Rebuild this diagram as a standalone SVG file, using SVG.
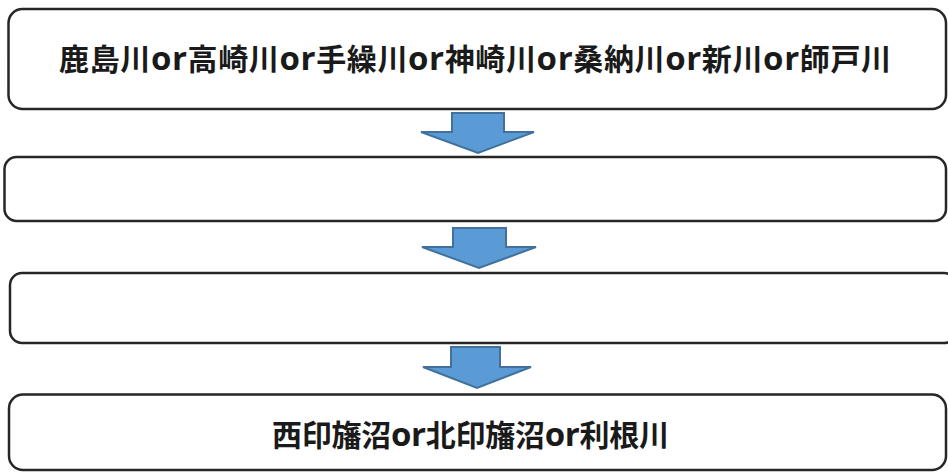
<svg xmlns="http://www.w3.org/2000/svg" width="948" height="473" viewBox="0 0 948 473">
<style>
.box{fill:#fff;stroke:#262626;stroke-width:2.5}
.arr{fill:#5B9BD5;stroke:#41719C;stroke-width:2;stroke-linejoin:miter}
.t{font-family:"Noto Sans CJK JP","Noto Sans",sans-serif;font-weight:bold;font-size:30px;fill:#1a1a1a}
.or{font-family:"Open Sans",sans-serif;font-weight:bold;font-size:33px}
</style>
<rect width="948" height="473" fill="#fff"/>
<g id="node1">
<rect class="box" x="8.5" y="9" width="937.5" height="100" rx="14"/>
<text class="t" x="59" y="70" textLength="832" lengthAdjust="spacing">鹿島川<tspan class="or">or</tspan>高崎川<tspan class="or">or</tspan>手繰川<tspan class="or">or</tspan>神崎川<tspan class="or">or</tspan>桑納川<tspan class="or">or</tspan>新川<tspan class="or">or</tspan>師戸川</text>
</g>
<g id="node2">
<rect class="box" x="4.5" y="157" width="941.5" height="64" rx="12"/>
</g>
<g id="node3">
<rect class="box" x="10" y="273" width="946" height="70" rx="12"/>
</g>
<g id="node4">
<rect class="box" x="9" y="394.5" width="937" height="75.5" rx="14"/>
<text class="t" x="272" y="446" textLength="397" lengthAdjust="spacing">西印旛沼<tspan class="or">or</tspan>北印旛沼<tspan class="or">or</tspan>利根川</text>
</g>
<g id="connectors">
<polygon class="arr" points="452,113 504,113 504,132 534,132 478,153 421,132 452,132"/>
<polygon class="arr" points="453,228 506,228 506,247 536,247 479,268 422,247 453,247"/>
<polygon class="arr" points="451,347 500,347 500,367 531,367 477,388 423,367 451,367"/>
</g>
</svg>
